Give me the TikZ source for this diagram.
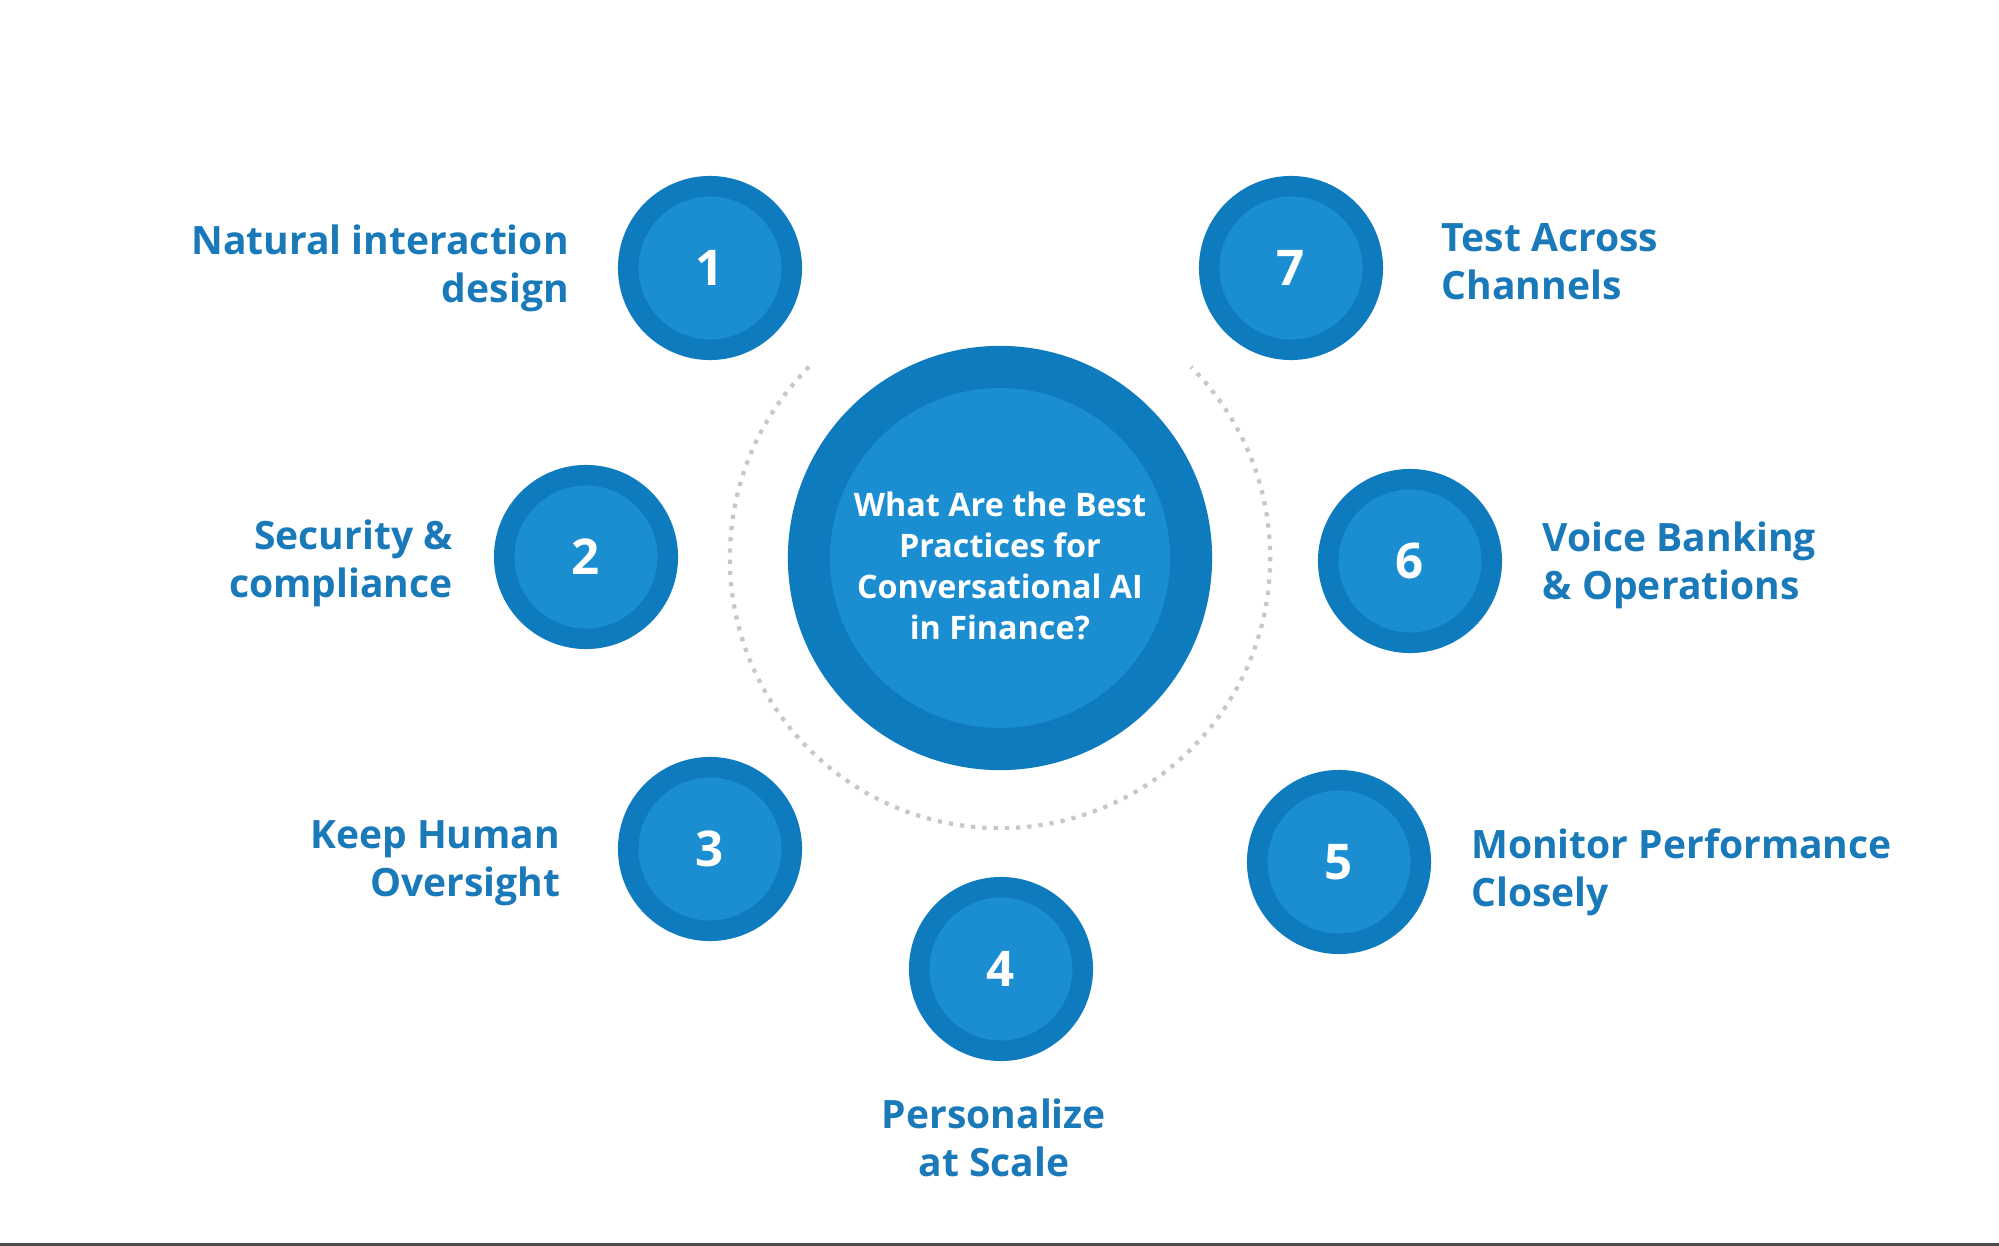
\documentclass[tikz,border=0pt]{standalone}
\usepackage{fontspec}
\setmainfont{Open Sans}
\usepackage{xcolor}
\usepackage{tikz}
\usetikzlibrary{positioning}

\definecolor{ringblue}{HTML}{0D7BBE}
\definecolor{fillblue}{HTML}{1B8ED2}
\definecolor{textblue}{HTML}{1979B9}

\begin{document}
\begin{tikzpicture}[
        x=0.01cm, y=0.01cm,
        every node/.style={font=\bfseries},
        hub/.style={circle, fill=fillblue, draw=ringblue, line width=0.42cm, minimum size=3.82cm, inner sep=0pt},
        hubtext/.style={text=white, align=center, inner sep=0pt, font=\bfseries\fontsize{9.2}{11.7}\selectfont},
        numcircle/.style={circle, fill=fillblue, draw=ringblue, line width=0.205cm, minimum size=1.635cm, inner sep=0pt, text=white, font=\bfseries\fontsize{14}{16}\selectfont},
        label/.style={text=textblue, inner sep=0pt, font=\bfseries\fontsize{11.1}{13.7}\selectfont},
        orbit/.style={draw=black!22, dotted, line width=1.2pt}
    ]
    \useasboundingbox (0,0) rectangle (1999,-1246);

    % Centre
    \node (Hub) [hub] at (1000,-558) {};
    \node (HubText) [hubtext, yshift=-0.08cm] at (Hub.center) {What Are the Best\\Practices for\\Conversational AI\\in Finance?};
    \draw [orbit] (Hub.center) ++(135:2.7cm) arc[start angle=135, end angle=405, radius=2.7cm];

    % Steps
    \node (C1) [numcircle] at (710,-268) {1};
    \node (C2) [numcircle] at (586,-557) {2};
    \node (C3) [numcircle] at (710,-849) {3};
    \node (C4) [numcircle] at (1001,-969) {4};
    \node (C5) [numcircle] at (1339,-862) {5};
    \node (C6) [numcircle] at (1410,-561) {6};
    \node (C7) [numcircle] at (1291,-268) {7};

    % Labels
    \node (L1) [label, align=right, anchor=east, left=0.485cm of C1] {Natural interaction\\design};
    \node (L2) [label, align=right, anchor=east, left=0.405cm of C2, yshift=-0.06cm] {Security \&\\compliance};
    \node (L3) [label, align=right, anchor=east, left=0.57cm of C3, yshift=-0.14cm] {Keep Human\\Oversight};
    \node (L4) [label, align=center, anchor=north, below=0.37cm of C4, xshift=-0.07cm] {Personalize\\at Scale};
    \node (L5) [label, align=left, anchor=west, right=0.395cm of C5, yshift=-0.10cm] {Monitor Performance\\Closely};
    \node (L6) [label, align=left, anchor=west, right=0.40cm of C6, yshift=-0.04cm] {Voice Banking\\\& Operations};
    \node (L7) [label, align=left, anchor=west, right=0.58cm of C7, yshift=0.06cm] {Test Across\\Channels};

    % Bottom rule
    \fill [black!70] (0,-1243) rectangle (1999,-1246);
\end{tikzpicture}
\end{document}
